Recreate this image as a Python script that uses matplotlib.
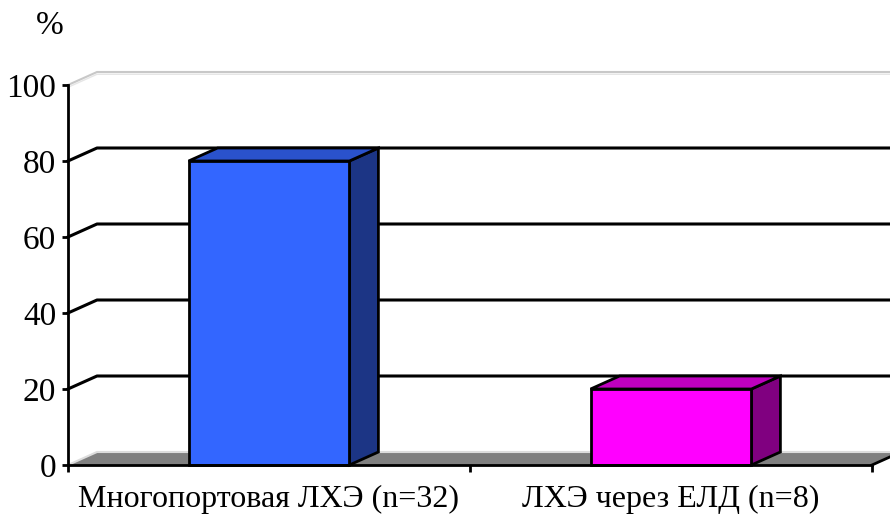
import matplotlib
matplotlib.use("Agg")
import matplotlib.pyplot as plt
from matplotlib.patches import Polygon

# Data
categories = ["Многопортовая ЛХЭ (n=32)", "ЛХЭ через ЕЛД (n=8)"]
values = [80, 20]
y_ticks = [0, 20, 40, 60, 80, 100]
y_label = "%"

front_colors = ["#3366FF", "#FF00FF"]
top_colors = ["#2A52CC", "#BF00BF"]
side_colors = ["#1C3585", "#800080"]

plt.rcParams["font.family"] = ["Liberation Serif", "DejaVu Serif"]

W, H, DPI = 890, 515, 100
fig = plt.figure(figsize=(W / DPI, H / DPI), dpi=DPI)
ax = fig.add_axes([68 / W, (H - 465) / H, 804 / W, 380 / H])

n = len(categories)
ax.set_xlim(0, n)
ax.set_ylim(0, 100)

# depth offset of the 3-D box, expressed in data units
px_x = n / 804.0
px_y = 100 / 380.0
DX = 29 * px_x
DY = 13 * px_y

ax.set_facecolor("none")
for s in ("top", "right"):
    ax.spines[s].set_visible(False)
for s in ("left", "bottom"):
    ax.spines[s].set_linewidth(2)
    ax.spines[s].set_zorder(6)

# floor
floor = Polygon([(0, 0), (n, 0), (n + DX, DY), (DX, DY)], closed=True,
                facecolor="#808080", edgecolor="none", zorder=1, clip_on=False)
ax.add_patch(floor)
ax.plot([0, DX, n + DX], [0, DY, DY], color="#DDDDDD", lw=1.5, zorder=1.5,
        clip_on=False)
ax.plot([n, n + DX], [0, DY], color="black", lw=2, zorder=6, clip_on=False)

# gridlines on back wall plus slanted segments on the side wall
for v in y_ticks[1:]:
    if v == 100:
        ax.plot([0, DX, n + DX], [v, v + DY, v + DY], color="#C8C8C8", lw=1.5,
                zorder=1.5, clip_on=False)
        ax.plot([0, DX, n + DX], [v - 0.6, v + DY - 0.6, v + DY - 0.6],
                color="#E6E6E6", lw=1, zorder=1.4, clip_on=False)
    else:
        ax.plot([0, DX, n + DX], [v, v + DY, v + DY], color="black", lw=2.2,
                zorder=1.5, clip_on=False)

# 3-D bars
bar_w = 0.4
for i, v in enumerate(values):
    x0 = i + 0.5 - bar_w / 2
    x1 = i + 0.5 + bar_w / 2
    front = Polygon([(x0, 0), (x1, 0), (x1, v), (x0, v)], closed=True,
                    facecolor=front_colors[i], edgecolor="black", lw=2,
                    joinstyle="miter", zorder=4, clip_on=False)
    side = Polygon([(x1, 0), (x1 + DX, DY), (x1 + DX, v + DY), (x1, v)],
                   closed=True, facecolor=side_colors[i], edgecolor="black",
                   lw=2, joinstyle="miter", zorder=3, clip_on=False)
    top = Polygon([(x0, v), (x1, v), (x1 + DX, v + DY), (x0 + DX, v + DY)],
                  closed=True, facecolor=top_colors[i], edgecolor="black",
                  lw=2, joinstyle="miter", zorder=3, clip_on=False)
    ax.add_patch(side)
    ax.add_patch(top)
    ax.add_patch(front)

# axes ticks
ax.set_yticks(y_ticks)
ax.set_yticklabels([str(t) for t in y_ticks])
ax.tick_params(axis="y", length=4.5, width=2, direction="out", pad=4,
               labelsize=24)
ax.set_xticks(range(n + 1))
ax.set_xticklabels([""] * (n + 1))
ax.tick_params(axis="x", which="major", length=5, width=2, direction="out")
ax.set_xticks([i + 0.5 for i in range(n)], minor=True)
ax.set_xticklabels(categories, minor=True)
ax.tick_params(axis="x", which="minor", length=0, pad=14, labelsize=23)

fig.text(50 / W, 1 - 26 / H, y_label, ha="center", va="center", fontsize=24)

fig.savefig("out.png", dpi=DPI)
